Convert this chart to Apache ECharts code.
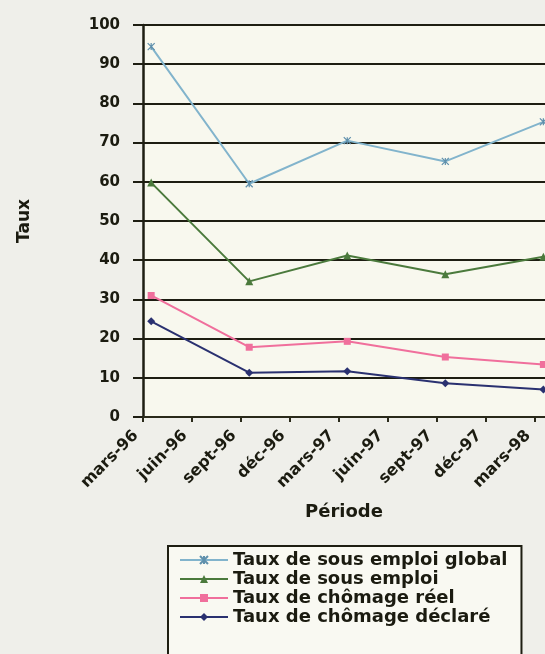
<!DOCTYPE html>
<html>
<head>
<meta charset="utf-8">
<script src="https://cdn.jsdelivr.net/npm/echarts@6/dist/echarts.min.js"></script>
<style>
  html, body { margin: 0; padding: 0; background: #efefea; overflow: hidden; }
  #chart { width: 545px; height: 654px; }
</style>
</head>
<body>
<div id="chart"></div>
<script>
// Quarterly tick labels along the time axis (one tick every 3 months)
const tickLabels = ['mars-96', 'juin-96', 'sept-96', 'déc-96', 'mars-97', 'juin-97', 'sept-97', 'déc-97', 'mars-98'];
// Survey periods (semiannual)
const periods = ['mars-96', 'sept-96', 'mars-97', 'sept-97', 'mars-98'];

// Rates (%)
const sousEmploiGlobal = [94.5, 59.5, 70.5, 65.2, 75.3];
const sousEmploi = [59.8, 34.6, 41.2, 36.4, 40.9];
const chomageReel = [31.0, 17.8, 19.3, 15.3, 13.4];
const chomageDeclare = [24.4, 11.3, 11.7, 8.6, 7.0];

// Month index of each period (mid-month) on a monthly axis starting at the first quarter label
const monthOf = p => tickLabels.indexOf(p) * 3 + 0.5;
const pts = vals => vals.map((v, i) => [monthOf(periods[i]), v]);

const textColor = '#1b1b10';
const fontFamily = 'DejaVu Sans';

const chart = echarts.init(document.getElementById('chart'), null, { renderer: 'canvas' });

chart.setOption({
  backgroundColor: '#efefea',
  animation: false,
  textStyle: { fontFamily: fontFamily, fontWeight: 'bold', color: textColor },
  grid: {
    left: 143, right: 0, top: 25, bottom: 237,
    show: true, backgroundColor: '#f8f8ee', borderWidth: 0
  },
  xAxis: {
    type: 'value',
    min: 0, max: 24.6, interval: 3,
    name: 'Période',
    nameLocation: 'middle',
    nameGap: 86,
    nameTextStyle: { fontSize: 18, fontWeight: 'bold', color: textColor, fontFamily: fontFamily },
    axisLine: { show: true, lineStyle: { color: '#2a2a1a', width: 2 } },
    axisTick: { show: true, length: 5, lineStyle: { color: '#2a2a1a', width: 2 } },
    splitLine: { show: false },
    axisLabel: {
      rotate: 45, margin: 9, padding: [0, 10, 0, 0],
      fontSize: 16, fontWeight: 'bold', color: textColor, fontFamily: fontFamily,
      showMaxLabel: false,
      formatter: v => (Math.abs(v / 3 - Math.round(v / 3)) < 1e-6 ? (tickLabels[Math.round(v / 3)] || '') : '')
    }
  },
  yAxis: {
    type: 'value',
    min: 0, max: 100, interval: 10,
    name: 'Taux',
    nameLocation: 'middle',
    nameRotate: 90,
    nameGap: 110,
    nameTextStyle: { fontSize: 17, fontWeight: 'bold', color: textColor, fontFamily: fontFamily },
    axisLine: { show: true, lineStyle: { color: '#1e1e12', width: 2.5 } },
    axisTick: { show: true, inside: false, length: 10, lineStyle: { color: '#1e1e12', width: 2 } },
    splitLine: { show: true, lineStyle: { color: '#1e1e12', width: 2.2 } },
    axisLabel: { margin: 23, fontSize: 15, fontWeight: 'bold', color: textColor, fontFamily: fontFamily }
  },
  legend: {
    orient: 'vertical',
    left: 168, top: 546, height: 200,
    itemWidth: 48, itemHeight: 10, itemGap: 1,
    padding: [5, 14, 40, 11],
    backgroundColor: '#f9f9f2',
    borderColor: '#1e1e12', borderWidth: 2,
    textStyle: { fontSize: 18, fontWeight: 'bold', color: textColor, fontFamily: fontFamily, padding: [0, 0, 0, 0] }
  },
  series: [
    {
      name: 'Taux de sous emploi global', type: 'line', data: pts(sousEmploiGlobal),
      symbol: 'path://M0,0L10,10M10,0L0,10M5,0L5,10', symbolSize: 7,
      lineStyle: { color: '#82b4cc', width: 2 },
      itemStyle: { color: '#82b4cc', borderColor: '#5f90ac', borderWidth: 1.2 }
    },
    {
      name: 'Taux de sous emploi', type: 'line', data: pts(sousEmploi),
      symbol: 'triangle', symbolSize: 8,
      lineStyle: { color: '#4b7a3c', width: 2 },
      itemStyle: { color: '#4b7a3c' }
    },
    {
      name: 'Taux de chômage réel', type: 'line', data: pts(chomageReel),
      symbol: 'rect', symbolSize: 7,
      lineStyle: { color: '#f06f9c', width: 2 },
      itemStyle: { color: '#f06f9c' }
    },
    {
      name: 'Taux de chômage déclaré', type: 'line', data: pts(chomageDeclare),
      symbol: 'diamond', symbolSize: 8,
      lineStyle: { color: '#2a3170', width: 2 },
      itemStyle: { color: '#2a3170' }
    }
  ]
});
</script>
</body>
</html>
